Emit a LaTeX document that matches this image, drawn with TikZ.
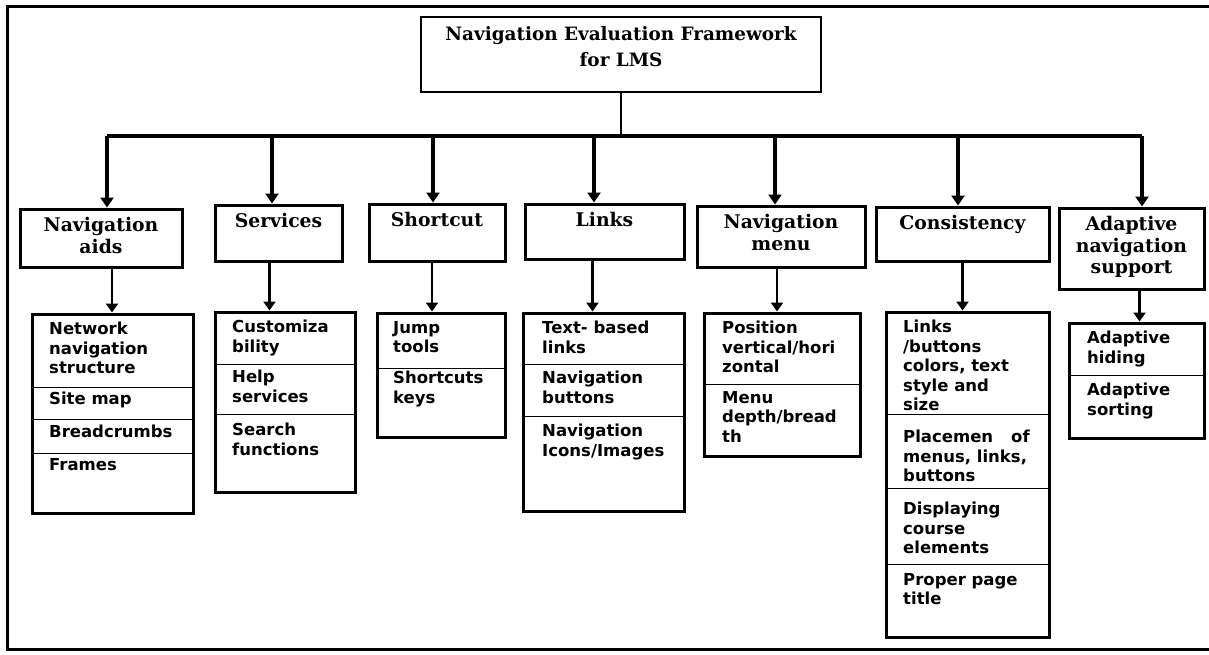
\documentclass[tikz,border=0pt]{standalone}
\usepackage{fontspec}
\setmainfont{DejaVu Serif}
\setsansfont{DejaVu Sans}
\usetikzlibrary{arrows.meta, positioning}

\begin{document}
\begin{tikzpicture}[
    x=1pt, y=-1pt,
    frame/.style={line width=3pt},
    root/.style={draw, line width=2.5pt, inner sep=0pt},
    roottxt/.style={font=\fontsize{18.4}{26}\selectfont\bfseries, align=center,
        anchor=north, inner sep=0pt},
    head/.style={draw, line width=3pt, inner sep=0pt},
    headtxt/.style={font=\fontsize{18.8}{21.5}\selectfont\bfseries, align=center,
        anchor=north, inner sep=0pt},
    list/.style={draw, line width=3pt, inner sep=0pt},
    item/.style={font=\sffamily\bfseries\fontsize{16.5}{19.5}\selectfont,
        align=left, anchor=north west, inner sep=0pt},
    sep/.style={line width=1pt},
    bus/.style={line width=3.5pt},
    drop/.style={-{Triangle[length=10pt, width=13pt]}, line width=3.5pt},
    sub/.style={-{Triangle[length=9pt, width=12pt]}, line width=2.5pt}
]
\useasboundingbox (0,0) rectangle (1209,654);

% --- Outer frame (open on the right) ---
\draw[frame] (1220,6) -- (7,6) -- (7,649) -- (1220,649);

% --- Root ---
\node[root, minimum width=400, minimum height=75] (lms) at (621,54.5) {};
\node[roottxt] (lmsT) at ([yshift=-11pt]lms.north)
    {Navigation Evaluation Framework\\for LMS};

% --- Main criteria ---
\node[head, minimum width=162, minimum height=58] (aids)  at (101,238)    {};
\node[head, minimum width=127, minimum height=56] (serv)  at (278.5,233)  {};
\node[head, minimum width=136, minimum height=57] (short) at (437,232.5)  {};
\node[head, minimum width=159, minimum height=55] (links) at (604.5,231.5) {};
\node[head, minimum width=168, minimum height=61] (menu)  at (781,236.5)  {};
\node[head, minimum width=173, minimum height=54] (cons)  at (962.5,234)  {};
\node[head, minimum width=145, minimum height=81] (adapt) at (1131.5,248.5) {};

\node[headtxt] (aidsT)  at ([yshift=-10pt]aids.north)  {Navigation\\aids};
\node[headtxt] (servT)  at ([yshift=-10pt]serv.north)  {Services};
\node[headtxt] (shortT) at ([yshift=-10pt]short.north) {Shortcut};
\node[headtxt] (linksT) at ([yshift=-10pt]links.north) {Links};
\node[headtxt] (menuT)  at ([yshift=-10pt]menu.north)  {Navigation\\menu};
\node[headtxt] (consT)  at ([yshift=-10pt]cons.north)  {Consistency};
\node[headtxt] (adaptT) at ([yshift=-10pt]adapt.north) {Adaptive\\navigation\\support};

% --- Sub-criteria lists ---
\node[list, minimum width=161, minimum height=199] (aidsL)  at (112.5,413.5) {};
\node[list, minimum width=140, minimum height=180] (servL)  at (285,402)     {};
\node[list, minimum width=128, minimum height=124] (shortL) at (441,375)     {};
\node[list, minimum width=161, minimum height=198] (linksL) at (603.5,412)   {};
\node[list, minimum width=156, minimum height=143] (menuL)  at (782,384.5)   {};
\node[list, minimum width=163, minimum height=325] (consL)  at (967.5,474.5) {};
\node[list, minimum width=135, minimum height=115] (adaptL) at (1136.5,380.5) {};

% dividers
\draw[sep] (aidsL.west |- 0,387) -- (aidsL.east |- 0,387);
\draw[sep] (aidsL.west |- 0,419) -- (aidsL.east |- 0,419);
\draw[sep] (aidsL.west |- 0,453) -- (aidsL.east |- 0,453);
\draw[sep] (servL.west |- 0,364) -- (servL.east |- 0,364);
\draw[sep] (servL.west |- 0,414) -- (servL.east |- 0,414);
\draw[sep] (shortL.west |- 0,368) -- (shortL.east |- 0,368);
\draw[sep] (linksL.west |- 0,364) -- (linksL.east |- 0,364);
\draw[sep] (linksL.west |- 0,416) -- (linksL.east |- 0,416);
\draw[sep] (menuL.west |- 0,384) -- (menuL.east |- 0,384);
\draw[sep] (consL.west |- 0,414) -- (consL.east |- 0,414);
\draw[sep] (consL.west |- 0,488) -- (consL.east |- 0,488);
\draw[sep] (consL.west |- 0,564) -- (consL.east |- 0,564);
\draw[sep] (adaptL.west |- 0,375) -- (adaptL.east |- 0,375);

% items
\node[item] (aids1) at (49,322)   {Network\\navigation\\structure};
\node[item] (aids2) at (49,392)   {Site map};
\node[item] (aids3) at (49,425)   {Breadcrumbs};
\node[item] (aids4) at (49,458)   {Frames};

\node[item] (serv1) at (232,320)  {Customiza\\bility};
\node[item] (serv2) at (232,370)  {Help\\services};
\node[item] (serv3) at (232,423)  {Search\\functions};

\node[item] (short1) at (393,321) {Jump\\tools};
\node[item] (short2) at (393,371) {Shortcuts\\keys};

\node[item] (links1) at (542,321) {Text- based\\links};
\node[item] (links2) at (542,371) {Navigation\\buttons};
\node[item] (links3) at (542,424) {Navigation\\Icons/Images};

\node[item] (menu1) at (722,321)  {Position\\vertical/hori\\zontal};
\node[item] (menu2) at (722,391)  {Menu\\depth/bread\\th};

\node[item] (cons1) at (903,320)  {Links\\/buttons\\colors, text\\style and\\size};
\node[item] (cons2) at (903,430)  {Placemen\hspace{18pt}of\\menus, links,\\buttons};
\node[item] (cons3) at (903,502)  {Displaying\\course\\elements};
\node[item] (cons4) at (903,573)  {Proper page\\title};

\node[item] (adapt1) at (1087,331) {Adaptive\\hiding};
\node[item] (adapt2) at (1087,383) {Adaptive\\sorting};

% --- Connectors from root ---
\coordinate (b1) at (107,136);
\coordinate (b2) at (272,136);
\coordinate (b3) at (433,136);
\coordinate (b4) at (594,136);
\coordinate (b5) at (775,136);
\coordinate (b6) at (958,136);
\coordinate (b7) at (1142,136);

\draw[line width=2pt] (lms.south) -- (lms.south |- b1);
\draw[bus] (b1) -- (b7);
\draw[drop] (b1) -- (b1 |- aids.north);
\draw[drop] (b2) -- (b2 |- serv.north);
\draw[drop] (b3) -- (b3 |- short.north);
\draw[drop] (b4) -- (b4 |- links.north);
\draw[drop] (b5) -- (b5 |- menu.north);
\draw[drop] (b6) -- (b6 |- cons.north);
\draw[drop] (b7) -- (b7 |- adapt.north);

% --- Criteria to sub-criteria ---
\draw[sub] ([xshift=11pt]aids.south) -- ([xshift=11pt]aids.south |- aidsL.north);
\draw[sub] ([xshift=-9pt]serv.south) -- ([xshift=-9pt]serv.south |- servL.north);
\draw[sub] ([xshift=-5pt]short.south) -- ([xshift=-5pt]short.south |- shortL.north);
\draw[sub] ([xshift=-12pt]links.south) -- ([xshift=-12pt]links.south |- linksL.north);
\draw[sub] ([xshift=-4pt]menu.south) -- ([xshift=-4pt]menu.south |- menuL.north);
\draw[sub] (cons.south) -- (cons.south |- consL.north);
\draw[sub] ([xshift=8pt]adapt.south) -- ([xshift=8pt]adapt.south |- adaptL.north);

\end{tikzpicture}
\end{document}
